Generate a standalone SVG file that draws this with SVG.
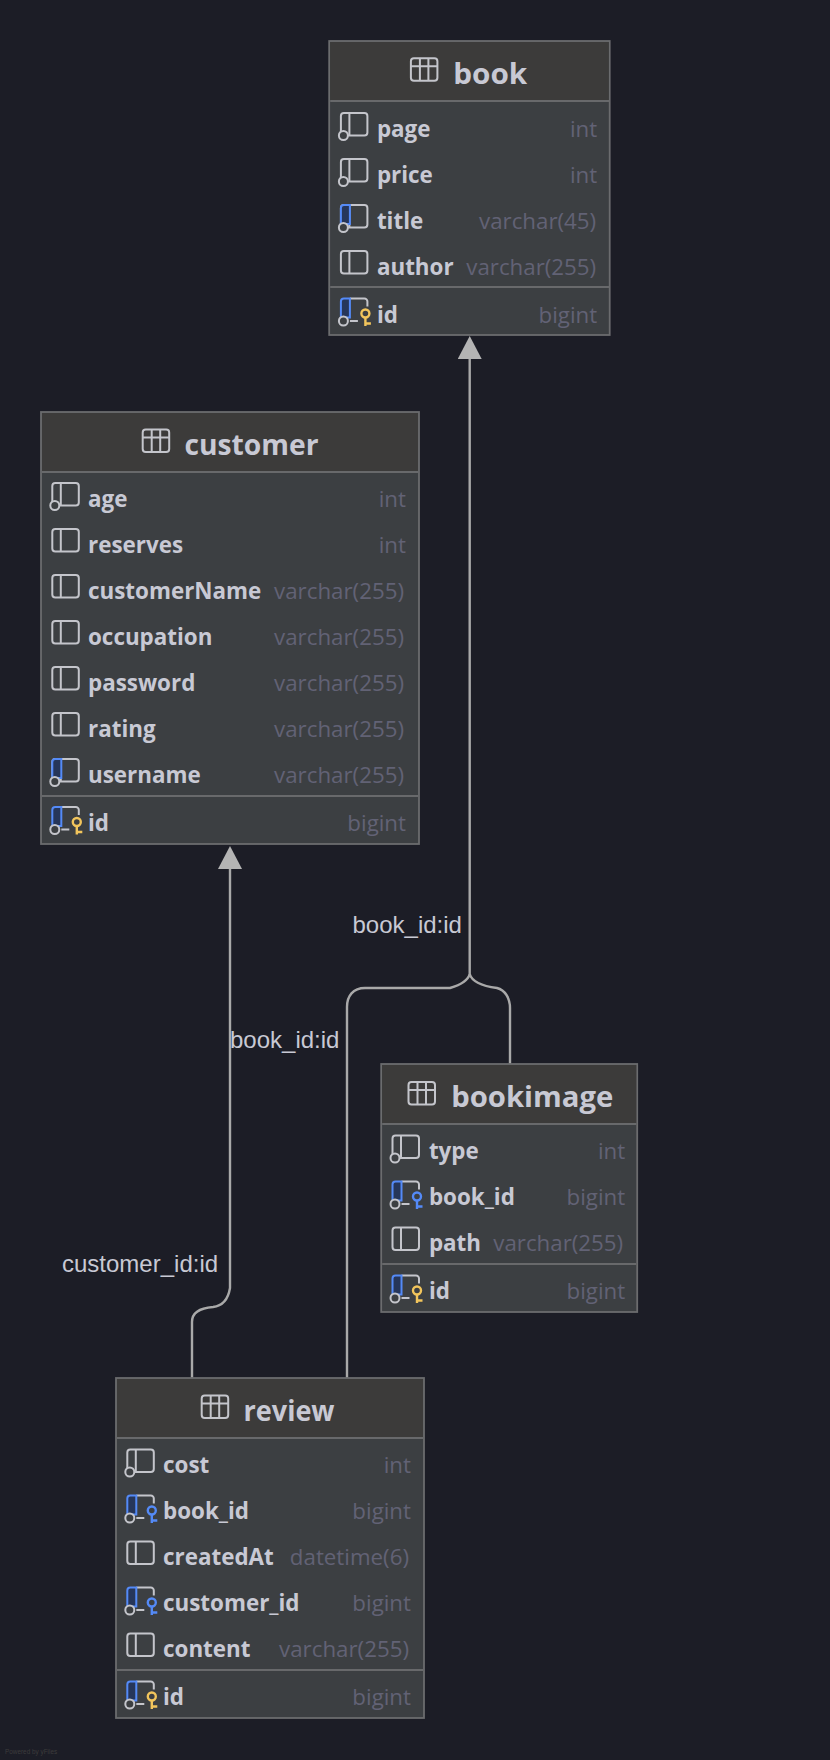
<svg xmlns="http://www.w3.org/2000/svg" width="830" height="1760" viewBox="0 0 830 1760">
<style>
.body{fill:#3c3f42;stroke:#6b6c6e;stroke-width:1.8}
.head{fill:#3c3b3a}
.sep{stroke:#68696b;stroke-width:2;fill:none}
.title{font:700 28.600px "Open Sans",sans-serif;fill:#c8c9d4}
.name{font:700 22.400px "Open Sans",sans-serif;fill:#c8c9d4}
.type{font:400 22.300px "Open Sans",sans-serif;fill:#626275;text-anchor:end}
.lbl{font:400 24px "Liberation Sans",sans-serif;fill:#c8c9d4}
.conn{fill:none;stroke:#a9a9a9;stroke-width:2.400}
.ic{fill:none;stroke:#c4c5cb;stroke-width:2}
.hole{fill:#3c3f42;stroke:#c4c5cb;stroke-width:2}
.blue{fill:#26365a;stroke:#548af7;stroke-width:2}
.ky{fill:none;stroke:#f2c55c;stroke-width:2.400}
.kb{fill:none;stroke:#548af7;stroke-width:2.400}
</style>
<defs>
<marker id="arrow" markerUnits="userSpaceOnUse" markerWidth="24" markerHeight="23" refX="12" refY="23" orient="0" viewBox="0 0 24 23"><path d="M0 23L12 0L24 23Z" fill="#b4b4b4"/></marker>
<g id="tbl"><rect class="ic" x="0" y="0" width="26.500" height="22.500" rx="3"/><path class="ic" d="M0 8H26.500M9 0V22.500M17.500 0V22.500"/></g>
<g id="col"><rect class="ic" x="0" y="0" width="26.500" height="22.500" rx="3"/><path class="ic" d="M8.500 0V22.500"/></g>
<g id="coln"><use href="#col"/><circle class="hole" cx="2.500" cy="22.500" r="4.500"/></g>
<g id="colu"><use href="#col"/><path class="blue" d="M0 19V3A3 3 0 0 1 3 0H9V19Z"/><circle class="hole" cx="2.500" cy="22.500" r="4.500"/></g>
<g id="colk"><path class="ic" d="M9 0H23.500A3 3 0 0 1 26.500 3V8M9 22.500H17"/><path class="blue" d="M0 19V3A3 3 0 0 1 3 0H9V19Z"/><circle class="hole" cx="2.500" cy="22.500" r="4.500"/></g>
<g id="pk"><use href="#colk"/><circle class="ky" cx="24.500" cy="15" r="4"/><path class="ky" d="M24.500 19V27.500M24.500 25H30"/></g>
<g id="fk"><use href="#colk"/><circle class="kb" cx="24.500" cy="15" r="4"/><path class="kb" d="M24.500 19V27.500M24.500 25H30"/></g>
</defs>
<rect width="830" height="1760" fill="#1c1d26"/>
<g id="connectors">
<path class="conn" marker-start="url(#arrow)" d="M469.700 359V974C468 981 460 985 450 988H365C353 988 347 996 347 1007V1378"/>
<path class="conn" d="M469.700 974C472 982 482 986 497 988C505 990 510 998 510 1008V1064"/>
<path class="conn" marker-start="url(#arrow)" d="M230 869V1288C228 1300 222 1306 213 1307C200 1308 192 1312 192 1322V1378"/>
<text class="lbl" x="352.500" y="933">book_id:id</text>
<text class="lbl" x="230" y="1048">book_id:id</text>
<text class="lbl" x="62" y="1272">customer_id:id</text>
</g>
<g id="book" transform="translate(-0.800 0)">
<rect class="body" x="330" y="41" width="280.500" height="294"/><rect class="head" x="331" y="42" width="278.500" height="58"/>
<path class="sep" d="M331 101H610M331 287H610"/>
<use href="#tbl" x="411.700" y="58.300"/><text class="title" x="454" y="84" textLength="74" lengthAdjust="spacingAndGlyphs">book</text>
<use href="#coln" x="341.700" y="113"/><text class="name" x="377.700" y="137">page</text><text class="type" x="598" y="137">int</text>
<use href="#coln" x="341.700" y="159"/><text class="name" x="377.700" y="183">price</text><text class="type" x="598" y="183">int</text>
<use href="#colu" x="341.700" y="205"/><text class="name" x="377.700" y="229">title</text><text class="type" x="597" y="229">varchar(45)</text>
<use href="#col" x="341.700" y="251"/><text class="name" x="377.700" y="275">author</text><text class="type" x="597" y="275">varchar(255)</text>
<use href="#pk" x="341.700" y="298.500"/><text class="name" x="377.700" y="323">id</text><text class="type" x="598" y="323">bigint</text>
</g>
<g id="customer">
<rect class="body" x="41" y="412" width="378" height="432"/><rect class="head" x="42" y="413" width="376" height="58"/>
<path class="sep" d="M42 472H418M42 796H418"/>
<use href="#tbl" x="142.700" y="429.500"/><text class="title" x="184.500" y="455" textLength="134" lengthAdjust="spacingAndGlyphs">customer</text>
<use href="#coln" x="52.300" y="483"/><text class="name" x="88" y="507">age</text><text class="type" x="406" y="507">int</text>
<use href="#col" x="52.300" y="529"/><text class="name" x="88" y="553">reserves</text><text class="type" x="406" y="553">int</text>
<use href="#col" x="52.300" y="575"/><text class="name" x="88" y="599">customerName</text><text class="type" x="404" y="599">varchar(255)</text>
<use href="#col" x="52.300" y="621"/><text class="name" x="88" y="645">occupation</text><text class="type" x="404" y="645">varchar(255)</text>
<use href="#col" x="52.300" y="667"/><text class="name" x="88" y="691">password</text><text class="type" x="404" y="691">varchar(255)</text>
<use href="#col" x="52.300" y="713"/><text class="name" x="88" y="737">rating</text><text class="type" x="404" y="737">varchar(255)</text>
<use href="#colu" x="52.300" y="759"/><text class="name" x="88" y="783">username</text><text class="type" x="404" y="783">varchar(255)</text>
<use href="#pk" x="52.300" y="807"/><text class="name" x="88" y="831">id</text><text class="type" x="406" y="831">bigint</text>
</g>
<g id="bookimage" transform="translate(-0.800 0)">
<rect class="body" x="382" y="1064" width="256" height="248"/><rect class="head" x="383" y="1065" width="254" height="58"/>
<path class="sep" d="M383 1124H637M383 1264H637"/>
<use href="#tbl" x="409.300" y="1082"/><text class="title" x="452" y="1107" textLength="162" lengthAdjust="spacingAndGlyphs">bookimage</text>
<use href="#coln" x="393.300" y="1135.500"/><text class="name" x="429.700" y="1159">type</text><text class="type" x="626" y="1159">int</text>
<use href="#fk" x="393.300" y="1181.500"/><text class="name" x="429.700" y="1205">book_id</text><text class="type" x="626" y="1205">bigint</text>
<use href="#col" x="393.300" y="1227.500"/><text class="name" x="429.700" y="1251">path</text><text class="type" x="624" y="1251">varchar(255)</text>
<use href="#pk" x="393.300" y="1275.500"/><text class="name" x="429.700" y="1299">id</text><text class="type" x="626" y="1299">bigint</text>
</g>
<g id="review">
<rect class="body" x="116" y="1378" width="308" height="340"/><rect class="head" x="117" y="1379" width="306" height="58"/>
<path class="sep" d="M117 1438H423M117 1670H423"/>
<use href="#tbl" x="201.700" y="1395.500"/><text class="title" x="243.500" y="1421" textLength="91" lengthAdjust="spacingAndGlyphs">review</text>
<use href="#coln" x="127.300" y="1449.500"/><text class="name" x="163" y="1473">cost</text><text class="type" x="411" y="1473">int</text>
<use href="#fk" x="127.300" y="1495.500"/><text class="name" x="163" y="1519">book_id</text><text class="type" x="411" y="1519">bigint</text>
<use href="#col" x="127.300" y="1541.500"/><text class="name" x="163" y="1565">createdAt</text><text class="type" x="409" y="1565">datetime(6)</text>
<use href="#fk" x="127.300" y="1587.500"/><text class="name" x="163" y="1611">customer_id</text><text class="type" x="411" y="1611">bigint</text>
<use href="#col" x="127.300" y="1633.500"/><text class="name" x="163" y="1657">content</text><text class="type" x="409" y="1657">varchar(255)</text>
<use href="#pk" x="127.300" y="1681.500"/><text class="name" x="163" y="1705">id</text><text class="type" x="411" y="1705">bigint</text>
</g>
<text x="5" y="1754" font-family="Liberation Sans, sans-serif" font-size="6.400" fill="#3c3c3c">Powered by yFiles</text>
</svg>
